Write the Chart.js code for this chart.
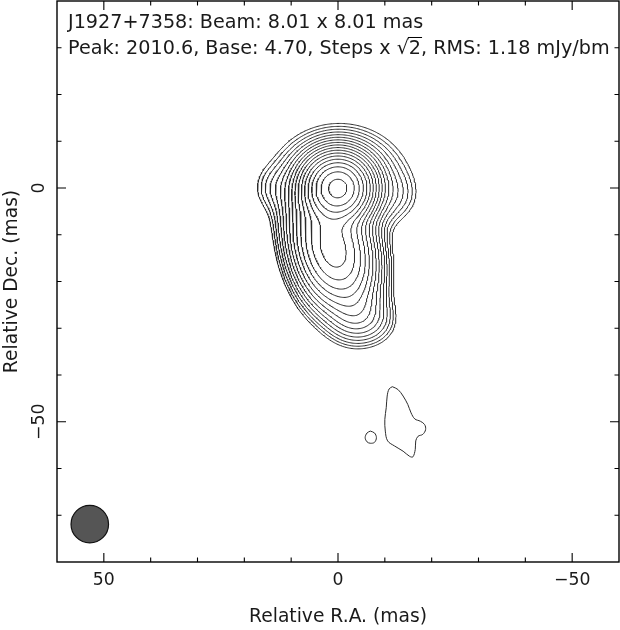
<!DOCTYPE html>
<html>
<head>
<meta charset="utf-8">
<script src="https://cdn.jsdelivr.net/npm/chart.js@4.4.1/dist/chart.umd.min.js"></script>
<style>
  html, body { margin: 0; padding: 0; background: #fff; }
  #wrap { width: 620px; height: 630px; }
</style>
</head>
<body>
<div id="wrap"><canvas id="map"></canvas></div>
<script>
// map header values
const sourceName = "J1927+7358";
const beamMajor = 8.01, beamMinor = 8.01; // mas
const beamRA = 53.0, beamDec = -71.9;     // where the beam is drawn
const peakFlux = "2010.6", baseLevel = "4.70", rmsNoise = "1.18";

// contour levels in mJy/beam (base 4.70, steps x sqrt 2)
const levels = [4.70, 6.65, 9.40, 13.3, 18.8, 26.6, 37.6, 53.2, 75.2,
  106.4, 150.4, 212.7, 300.8, 425.4, 601.6, 850.8, 1203.2, 1701.6];

// restored components of the main source (mas, mJy/beam, FWHM mas, PA deg)
const compRA    = [0.0, -0.5, 13.0, -12.0,   3.0,  -1.0,  -4.0,  -8.0];
const compDec   = [0.0,  1.0,  0.0,  -1.5, -12.5, -13.5, -27.0, -28.5];
const compPeak  = [1860, 75,   8,    6.5,  295,   295,    35,     8];
const compMajor = [8.1, 15.0, 7.0,   7.0,  15.3,  15.3,   7.5,   7.0];
const compMinor = [8.1, 12.5, 7.0,   7.0,   8.5,   8.5,   7.5,   7.0];
const compPA    = [0,    90,   0,     0,    12,    12,     0,     0];

// faint south-west islands at the base level (mas)
const blobRA  = [-11.6, -12.8, -13.9, -14.9, -15.6, -16.4, -17.6, -18.5, -18.7, -18.1, -17.1, -16.6,
  -16.5, -16.0, -15.3, -13.9, -12.1, -10.6, -10.1, -10.0, -10.3, -10.5, -10.9];
const blobDec = [-42.5, -43.1, -44.5, -46.3, -48.1, -49.4, -49.9, -50.6, -51.7, -52.7, -53.1, -54.1,
  -55.9, -57.5, -57.4, -56.3, -55.2, -54.1, -52.0, -49.5, -47.0, -44.5, -43.0];
const spotRA  = [-6.9, -7.8, -8.2, -7.8, -6.9, -6.2, -5.8, -6.2];
const spotDec = [-52.0, -52.4, -53.4, -54.4, -54.6, -54.3, -53.4, -52.4];

// axes
const raTicks = [50, 40, 30, 20, 10, 0, -10, -20, -30, -40, -50];
const decTicks = [30, 20, 10, 0, -10, -20, -30, -40, -50, -60, -70];
const raLabels = [50, 0, -50];
const decLabels = [0, -50];

// ---- brightness grid of the main source ----
const step = 0.25;
const xs = [], ys = [];
for (let v = -60; v <= 60 + 1e-9; v += step) xs.push(v);
for (let v = -80; v <= 40 + 1e-9; v += step) ys.push(v);
const nx = xs.length, ny = ys.length;
const grid = new Float64Array(nx * ny);
const FW = 2 * Math.sqrt(2 * Math.LN2);
for (let c = 0; c < compRA.length; c++) {
  const th = compPA[c] * Math.PI / 180, s = Math.sin(th), co = Math.cos(th);
  const sa = compMajor[c] / FW, sb = compMinor[c] / FW;
  for (let j = 0; j < ny; j++) {
    const dy = ys[j] - compDec[c];
    for (let i = 0; i < nx; i++) {
      const dx = xs[i] - compRA[c];
      const a = dx * s + dy * co, b = dx * co - dy * s;
      const e = 0.5 * (a * a / (sa * sa) + b * b / (sb * sb));
      if (e < 30) grid[j * nx + i] += compPeak[c] * Math.exp(-e);
    }
  }
}

// marching squares, segments chained into polylines
function edgePoint(id, level) {
  const k = id >> 1, i = k % nx, j = (k - i) / nx;
  const va = grid[k];
  if ((id & 1) === 0) {
    const t = (level - va) / (grid[k + 1] - va);
    return { x: xs[i] + t * (xs[i + 1] - xs[i]), y: ys[j] };
  }
  const t = (level - va) / (grid[k + nx] - va);
  return { x: xs[i], y: ys[j] + t * (ys[j + 1] - ys[j]) };
}

function traceLevel(level) {
  const adj = new Map();
  const link = (a, b) => {
    if (!adj.has(a)) adj.set(a, []);
    if (!adj.has(b)) adj.set(b, []);
    adj.get(a).push(b); adj.get(b).push(a);
  };
  for (let j = 0; j < ny - 1; j++) {
    for (let i = 0; i < nx - 1; i++) {
      const v00 = grid[j * nx + i], v10 = grid[j * nx + i + 1];
      const v01 = grid[(j + 1) * nx + i], v11 = grid[(j + 1) * nx + i + 1];
      const c = (v00 > level ? 1 : 0) | (v10 > level ? 2 : 0) | (v11 > level ? 4 : 0) | (v01 > level ? 8 : 0);
      if (c === 0 || c === 15) continue;
      const eB = 2 * (j * nx + i), eT = 2 * ((j + 1) * nx + i);
      const eL = 2 * (j * nx + i) + 1, eR = 2 * (j * nx + i + 1) + 1;
      const cross = [];
      if ((c & 1) !== ((c >> 1) & 1)) cross.push(eB);
      if (((c >> 1) & 1) !== ((c >> 2) & 1)) cross.push(eR);
      if (((c >> 2) & 1) !== ((c >> 3) & 1)) cross.push(eT);
      if (((c >> 3) & 1) !== (c & 1)) cross.push(eL);
      if (cross.length === 2) link(cross[0], cross[1]);
      else {
        const mid = (v00 + v10 + v01 + v11) / 4 > level;
        if ((c === 5) === mid) { link(eB, eR); link(eT, eL); }
        else { link(eB, eL); link(eR, eT); }
      }
    }
  }
  const used = new Set();
  const lines = [];
  const walk = (start) => {
    const pts = [edgePoint(start, level)];
    used.add(start);
    let prev = -1, cur = start;
    while (true) {
      const nb = adj.get(cur).find(n => n !== prev && !used.has(n));
      if (nb === undefined) break;
      used.add(nb);
      pts.push(edgePoint(nb, level));
      prev = cur; cur = nb;
    }
    if (pts.length > 2 && adj.get(cur).includes(start)) pts.push(pts[0]);
    return pts;
  };
  for (const [id, nb] of adj) if (nb.length === 1 && !used.has(id)) lines.push(walk(id));
  for (const id of adj.keys()) if (!used.has(id)) lines.push(walk(id));
  return lines;
}

const LINE = "#2b2b2b";
const datasets = [];
levels.forEach(lv => {
  traceLevel(lv).forEach(pts => {
    datasets.push({
      data: pts, showLine: true, pointRadius: 0, borderColor: LINE,
      borderWidth: 1, tension: 0, fill: false
    });
  });
});

// islands, closed loops
const loop = (ra, dec) => {
  const pts = ra.map((v, i) => ({ x: v, y: dec[i] }));
  pts.push(pts[0]);
  return pts;
};
[[blobRA, blobDec], [spotRA, spotDec]].forEach(([ra, dec]) => {
  datasets.push({
    data: loop(ra, dec), showLine: true, pointRadius: 0, borderColor: LINE,
    borderWidth: 1, tension: 0.35, fill: false
  });
});

// beam, radius taken from the x scale
datasets.push({
  data: [{ x: beamRA, y: beamDec }],
  showLine: false,
  backgroundColor: "#555555",
  borderColor: "#111111",
  borderWidth: 1.2,
  pointRadius: (ctx) => {
    const sx = ctx.chart.scales.x;
    return Math.abs(sx.getPixelForValue(beamMajor / 2) - sx.getPixelForValue(0));
  }
});

const FONT = '"DejaVu Sans", sans-serif';
function fitSize(ctx, text, target) {
  ctx.font = "20px " + FONT;
  return 20 * target / ctx.measureText(text).width;
}
const fmt = v => (v < 0 ? "\u2212" + Math.abs(v) : String(v));

const framePlugin = {
  id: "frame",
  afterDraw(chart) {
    const { ctx, chartArea: a, scales: { x, y } } = chart;
    ctx.save();
    ctx.strokeStyle = "#000";
    ctx.lineWidth = 1.4;
    ctx.strokeRect(a.left, a.top, a.right - a.left, a.bottom - a.top);

    ctx.lineWidth = 1.1;
    ctx.beginPath();
    raTicks.forEach(v => {
      const px = x.getPixelForValue(v), len = v % 50 === 0 ? 9 : 4.5;
      ctx.moveTo(px, a.bottom); ctx.lineTo(px, a.bottom - len);
      ctx.moveTo(px, a.top); ctx.lineTo(px, a.top + len);
    });
    decTicks.forEach(v => {
      const py = y.getPixelForValue(v), len = v % 50 === 0 ? 9 : 4.5;
      ctx.moveTo(a.left, py); ctx.lineTo(a.left + len, py);
      ctx.moveTo(a.right, py); ctx.lineTo(a.right - len, py);
    });
    ctx.stroke();

    ctx.fillStyle = "#1a1a1a";
    ctx.textAlign = "center";
    ctx.textBaseline = "middle";
    const tickSize = fitSize(ctx, "50", 22);
    ctx.font = tickSize + "px " + FONT;
    raLabels.forEach(v => ctx.fillText(fmt(v), x.getPixelForValue(v), a.bottom + 18.5));
    decLabels.forEach(v => {
      ctx.save();
      ctx.translate(a.left - 17, y.getPixelForValue(v));
      ctx.rotate(-Math.PI / 2);
      ctx.fillText(fmt(v), 0, 0);
      ctx.restore();
    });

    const xt = "Relative R.A. (mas)", yt = "Relative Dec. (mas)";
    ctx.font = fitSize(ctx, xt, 178) + "px " + FONT;
    ctx.fillText(xt, (a.left + a.right) / 2, a.bottom + 55);
    ctx.save();
    ctx.translate(a.left - 45, (a.top + a.bottom) / 2);
    ctx.rotate(-Math.PI / 2);
    ctx.fillText(yt, 0, 0);
    ctx.restore();

    // header lines inside the frame
    const l1 = `${sourceName}: Beam: ${beamMajor.toFixed(2)} x ${beamMinor.toFixed(2)} mas`;
    const l2a = `Peak: ${peakFlux}, Base: ${baseLevel}, Steps x \u221A`;
    const l2b = "2";
    const l2c = `, RMS: ${rmsNoise} mJy/bm`;
    const hs = fitSize(ctx, l2a + l2b + l2c, 542);
    ctx.font = hs + "px " + FONT;
    ctx.textAlign = "left";
    ctx.textBaseline = "alphabetic";
    const x0 = a.left + 11;
    ctx.fillText(l1, x0, 28);
    const b2 = 54;
    ctx.fillText(l2a, x0, b2);
    const w2a = ctx.measureText(l2a).width, w2b = ctx.measureText(l2b).width;
    ctx.fillText(l2b, x0 + w2a, b2);
    ctx.fillText(l2c, x0 + w2a + w2b, b2);
    ctx.lineWidth = 1;
    ctx.beginPath();
    ctx.moveTo(x0 + w2a - 1, b2 - hs * 0.86);
    ctx.lineTo(x0 + w2a + w2b + 1, b2 - hs * 0.86);
    ctx.stroke();
    ctx.restore();
  }
};

new Chart(document.getElementById("map"), {
  type: "scatter",
  data: { datasets },
  options: {
    responsive: true,
    maintainAspectRatio: false,
    animation: false,
    events: [],
    layout: { padding: { left: 57, right: 1, top: 1, bottom: 68 } },
    plugins: { legend: { display: false }, tooltip: { enabled: false } },
    scales: {
      x: { type: "linear", min: -60, max: 60, reverse: true, display: false },
      y: { type: "linear", min: -80, max: 40, display: false }
    }
  },
  plugins: [framePlugin]
});
</script>
</body>
</html>
